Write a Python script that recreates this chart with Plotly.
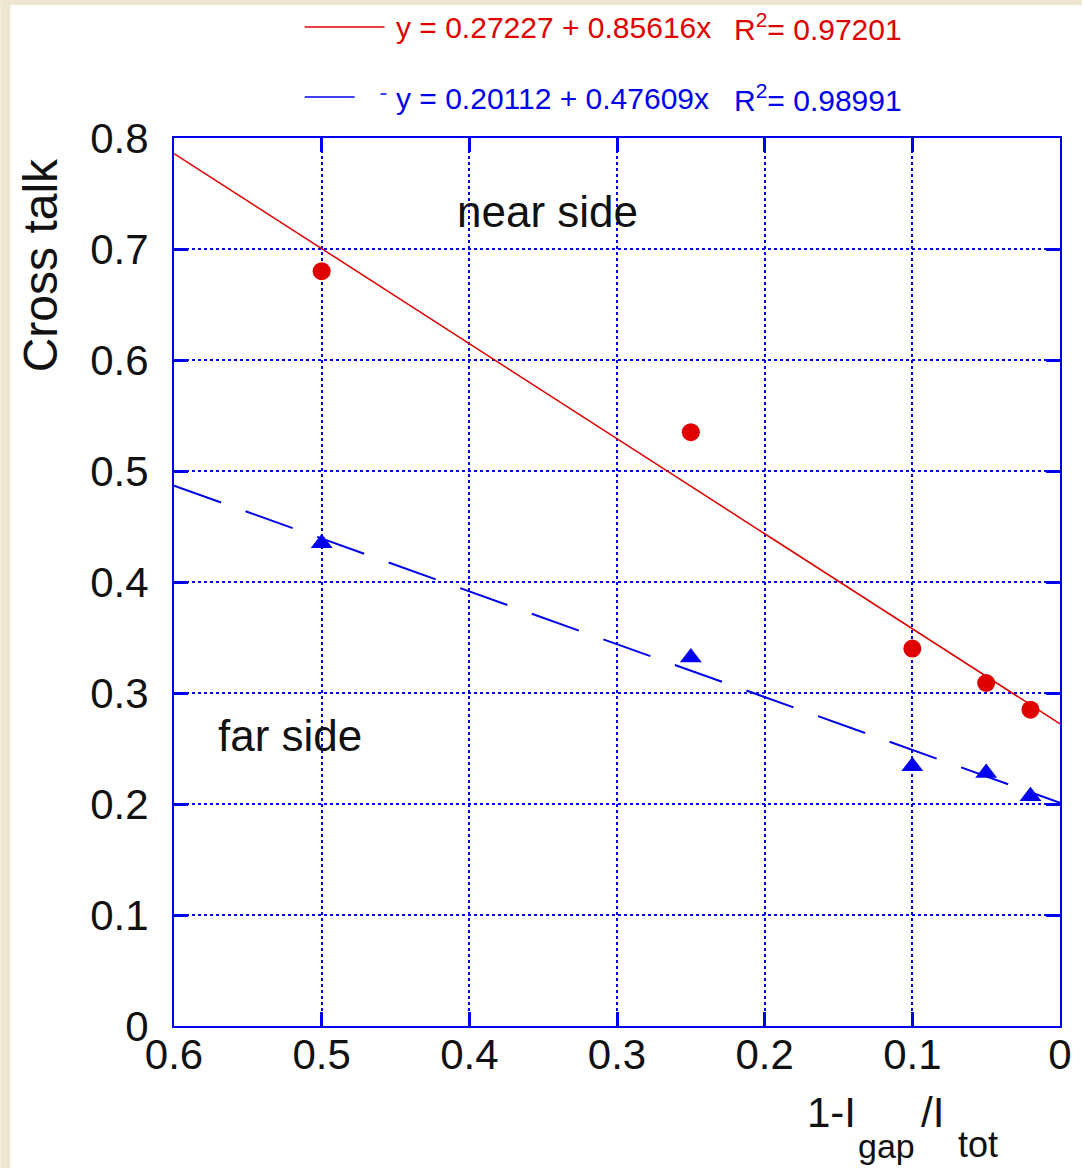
import plotly.graph_objects as go

# ---- data ----
x_vals = [0.5, 0.25, 0.1, 0.05, 0.02]
near_side = [0.680, 0.535, 0.340, 0.309, 0.285]
far_side = [0.435, 0.332, 0.234, 0.228, 0.207]
near_fit = [0.27227, 0.85616]   # intercept, slope
far_fit = [0.20112, 0.47609]
fit_x = [0.6, 0.0]
x_ticks = [0.6, 0.5, 0.4, 0.3, 0.2, 0.1, 0.0]
x_ticklabels = ["0.6", "0.5", "0.4", "0.3", "0.2", "0.1", "0"]
y_ticks = [0, 0.1, 0.2, 0.3, 0.4, 0.5, 0.6, 0.7, 0.8]
y_ticklabels = ["0", "0.1", "0.2", "0.3", "0.4", "0.5", "0.6", "0.7", "0.8"]
near_eq = "y = 0.27227 + 0.85616x"
near_r2 = "R<sup>2</sup>= 0.97201"
far_eq = "y = 0.20112 + 0.47609x"
far_r2 = "R<sup>2</sup>= 0.98991"

RED = "#e00000"
BLUE = "#0000ee"
FONT = "Liberation Sans"

W, H = 1084, 1168
L, R, T, B = 174, 22, 138, 142
PW, PH = W - L - R, H - T - B


def px(x):
    return (x - L) / PW


def py(y):
    return (H - B - y) / PH


near_line = [near_fit[0] + near_fit[1] * v for v in fit_x]
far_line = [far_fit[0] + far_fit[1] * v for v in fit_x]

fig = go.Figure()
fig.add_trace(go.Scatter(x=fit_x, y=near_line, mode="lines",
                         line=dict(color=RED, width=1.5), showlegend=False))
fig.add_trace(go.Scatter(x=fit_x, y=far_line, mode="lines",
                         line=dict(color=BLUE, width=2, dash="50px,26px"), showlegend=False))
fig.add_trace(go.Scatter(x=x_vals, y=near_side, mode="markers",
                         marker=dict(symbol="circle", size=18, color=RED), showlegend=False))
fig.add_trace(go.Scatter(x=x_vals, y=far_side, mode="markers",
                         marker=dict(symbol="triangle-up", size=19, color=BLUE), showlegend=False))

axis_common = dict(
    showline=True, linecolor=BLUE, linewidth=2, mirror="ticks",
    ticks="inside", ticklen=14, tickwidth=3, tickcolor=BLUE,
    showgrid=True, gridcolor=BLUE, gridwidth=1.5, griddash="dot",
    zeroline=False, tickfont=dict(family=FONT, size=42, color="#111111"),
)

fig.update_xaxes(range=[0.6, 0.0], tickvals=x_ticks, ticktext=x_ticklabels,
                 ticklabelstandoff=-9, **axis_common)
fig.update_yaxes(range=[0, 0.8], tickvals=y_ticks, ticktext=y_ticklabels,
                 ticklabelstandoff=15, **axis_common)

shapes = [
    # beige paper edges
    dict(type="rect", xref="paper", yref="paper", x0=px(0), x1=px(10), y0=py(H), y1=py(0),
         fillcolor="#efe6d2", line=dict(width=0), layer="below"),
    dict(type="rect", xref="paper", yref="paper", x0=px(0), x1=px(W), y0=py(5), y1=py(0),
         fillcolor="#efe6d2", line=dict(width=0), layer="below"),
    # legend samples
    dict(type="line", xref="paper", yref="paper", x0=px(305), x1=px(385), y0=py(27), y1=py(27),
         line=dict(color=RED, width=1.5)),
    dict(type="line", xref="paper", yref="paper", x0=px(305), x1=px(355), y0=py(97), y1=py(97),
         line=dict(color=BLUE, width=1.5)),
    dict(type="line", xref="paper", yref="paper", x0=px(381), x1=px(387), y0=py(94), y1=py(94),
         line=dict(color=BLUE, width=1.5)),
]


def ann(text, x, y, size, color="#111111", xanchor="left", angle=0, yanchor="middle"):
    return dict(text=text, xref="paper", yref="paper", x=px(x), y=py(y), showarrow=False,
                xanchor=xanchor, yanchor=yanchor, textangle=angle,
                font=dict(family=FONT, size=size, color=color))


annotations = [
    ann(near_eq, 394, 27, 30, RED),
    ann(near_r2, 733, 27, 30, RED),
    ann(far_eq, 394, 98, 30, BLUE),
    ann(far_r2, 733, 98, 30, BLUE),
    ann("near side", 548, 211, 44, xanchor="center"),
    ann("far side", 290, 735, 44, xanchor="center"),
    ann("Cross talk", 40, 265, 48, xanchor="center", angle=-90),
    ann("1-I", 806, 1112, 42),
    ann("gap", 858, 1167, 34, yanchor="bottom"),
    ann("/I", 921, 1112, 42),
    ann("tot", 958, 1167, 36, yanchor="bottom"),
]

fig.update_layout(
    width=W, height=H,
    margin=dict(l=L, r=R, t=T, b=B),
    paper_bgcolor="white", plot_bgcolor="white",
    shapes=shapes, annotations=annotations,
    showlegend=False,
)

fig.write_html("out.html")
